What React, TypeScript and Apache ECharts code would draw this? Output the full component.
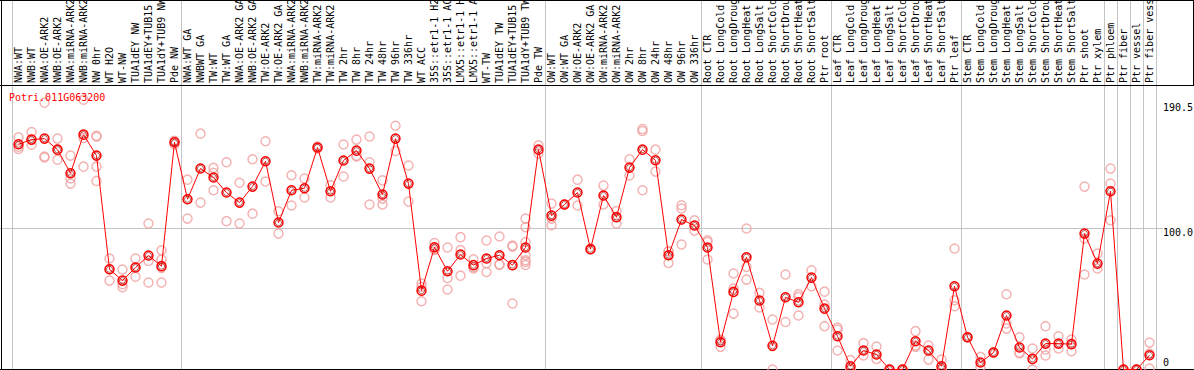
import React, { useEffect, useRef } from "react";
import * as echarts from "echarts";

const geneId = "Potri.011G063200";

const categories = [
  "NWA:WT", "NWB:WT", "NWA:OE-ARK2", "NWB:OE-ARK2", "NWA:miRNA-ARK2", "NWB:miRNA-ARK2",
  "NW 0hr", "WT H2O", "WT-NW", "TUA1dEY NW", "TUA1dEY+TUB15 NW", "TUA1dY+TUB9 NW", "Pde NW",
  "NWA:WT GA", "NWBWT GA", "TW:WT", "TW:WT GA", "NWA:OE-ARK2 GA", "NWB:OE-ARK2 GA",
  "TW:OE-ARK2", "TW:OE-ARK2 GA", "NWA:miRNA-ARK2", "NWB:miRNA-ARK2", "TW:miRNA-ARK2",
  "TW:miRNA-ARK2", "TW 2hr", "TW 8hr", "TW 24hr", "TW 48hr", "TW 96hr", "TW 336hr", "WT ACC",
  "35S::etr1-1 H2O", "35S::etr1-1 ACC", "LMX5::etr1-1 H2O", "LMX5::etr1-1 ACC", "WT-TW",
  "TUA1dEY TW", "TUA1dEY+TUB15 TW", "TUA1dY+TUB9 TW", "Pde TW",
  "OW:WT", "OW:WT GA", "OW:OE-ARK2", "OW:OE-ARK2 GA", "OW:miRNA-ARK2", "OW:miRNA-ARK2",
  "OW 2hr", "OW 8hr", "OW 24hr", "OW 48hr", "OW 96hr", "OW 336hr",
  "Root CTR", "Root LongCold", "Root LongDrought", "Root LongHeat", "Root LongSalt",
  "Root ShortCold", "Root ShortDrought", "Root ShortHeat", "Root ShortSalt", "Ptr root",
  "Leaf CTR", "Leaf LongCold", "Leaf LongDrought", "Leaf LongHeat", "Leaf LongSalt",
  "Leaf ShortCold", "Leaf ShortDrought", "Leaf ShortHeat", "Leaf ShortSalt", "Ptr leaf",
  "Stem CTR", "Stem LongCold", "Stem LongDrought", "Stem LongHeat", "Stem LongSalt",
  "Stem ShortCold", "Stem ShortDrought", "Stem ShortHeat", "Stem ShortSalt",
  "Ptr shoot", "Ptr xylem", "Ptr phloem", "Ptr fiber", "Ptr vessel", "Ptr fiber vessel",
];

// first category index of each group (vertical separators)
const groupStarts = [0, 13, 41, 53, 63, 73, 84, 85, 86, 87];

const means = [
  159.1, 162.4, 163.1, 155.3, 138.6, 165.9, 151.1, 70.8, 62.8, 72.0, 80.5, 73.0, 160.5,
  120.3, 142.0, 135.6, 125.0, 117.9, 129.2, 147.1, 103.8, 126.6, 128.0, 156.8, 125.9,
  147.6, 154.6, 141.9, 123.6, 163.1, 131.3, 55.7, 86.3, 69.4, 81.2, 73.7, 78.4, 80.7,
  73.7, 86.2, 155.3,
  108.7, 116.5, 125.0, 85.0, 122.9, 107.6, 142.6, 155.3, 147.8, 80.7, 105.9, 101.7,
  86.2, 19.3, 54.8, 79.3, 48.7, 16.7, 51.0, 47.5, 64.9, 43.0,
  23.5, 2.3, 13.4, 10.6, 0, 0, 20.0, 13.4, 2.3, 58.8,
  22.8, 4.9, 12.0, 38.1, 15.5, 7.5, 18.3, 18.3, 17.9, 96.0, 74.8,
  125.9, 0, 0, 10.1,
];

const replicates = [
  [164.1, 157.3, 155.8], [167.7, 162.4, 158.8], [188.5, 150.4, 149.7], [163.1, 155.3, 148.2],
  [151.1, 134.9, 131.3], [190.5, 163.6, 143.3], [165.1, 164.4, 143.3, 133.2], [78.4, 70.8, 62.8],
  [70.6, 58.1, 60.2], [78.4, 72.0, 65.6], [103.1, 76.7, 61.4], [84.2, 77.7, 71.8, 61.4],
  [161.5, 161.1, 159.0],
  [134.1, 106.6], [166.6, 117.9], [142.4, 138.9, 126.6], [146.4, 104.8], [131.9, 103.1],
  [148.5, 110.1], [161.2, 132.8], [111.8, 96.0], [137.2, 115.8], [134.9, 121.5],
  [157.5, 156.1], [130.2, 121.5], [158.9, 136.3], [162.4, 150.4, 151.0], [164.6, 146.4, 116.5],
  [133.6, 120.7, 116.5], [172.2, 154.4], [144.1, 118.6], [60.7, 58.3, 48.2], [89.4, 85.0, 84.5],
  [86.2, 64.7, 56.5], [93.5, 84.3, 66.3], [77.9, 72.2, 71.3], [91.1, 75.1, 68.9],
  [93.9, 74.1, 74.1], [87.5, 86.8, 46.6], [106.6, 100.5, 90.1, 80.7, 77.2, 76.0, 73.8],
  [158.4, 152.5],
  [117.2, 106.6, 101.9], [116.5, 116.5], [134.1, 115.8], [85.0, 85.0], [129.9, 116.5],
  [112.0, 103.1], [148.5, 137.0], [169.9, 168.5, 126.6], [155.3, 139.8], [83.3, 83.5, 75.3],
  [116.0, 113.7, 88.3], [105.4, 98.1],
  [91.3, 90.1, 77.7], [20.7, 21.2, 16.0], [67.8, 57.1, 39.5], [99.6, 72.5, 63.5], [54.1, 43.8],
  [35.3, 0], [67.1, 33.6], [53.2, 51.3, 38.1], [70.1, 58.8], [55.0, 45.8, 30.6],
  [29.6, 28.2, 13.4], [6.6, 0, 0], [18.6, 9.9], [16.2, 7.5], [0, 0], [0, 0], [27.1, 16.9, 16.0],
  [16.9, 7.0], [7.0, 0, 0], [85.5, 48.9, 44.7],
  [22.8, 22.8], [8.9, 1.9], [12.0, 12.0], [53.2, 32.5, 28.9], [22.8, 12.0, 11.3], [14.8, 0],
  [30.6, 14.1, 9.9], [23.5, 14.8], [21.2, 12.9], [129.2, 92.5, 67.1], [81.9, 71.3],
  [141.9, 131.3, 105.4], [0, 0], [0, 0], [19.0, 11.3, 0.7],
];

const yMarkValues = [190.5, 100, 0];
const yMarkLabels = ["190.5", "100.0", "0"];
const gridLineValue = 100;

const FONT = "DejaVu Sans Mono";

export default function App() {
  const ref = useRef<HTMLDivElement>(null);

  useEffect(() => {
    if (!ref.current) return;
    const chart = echarts.init(ref.current, null, { renderer: "svg" });

    const repData: number[][] = [];
    replicates.forEach((arr, i) => arr.forEach((v) => repData.push([i, v])));

    chart.setOption({
      animation: false,
      grid: { left: 12, top: 0, width: 1144, height: 369.5, outerBoundsMode: "none", containLabel: false },
      xAxis: {
        type: "category",
        position: "top",
        offset: -85,
        data: categories,
        boundaryGap: true,
        axisLine: { show: false },
        axisTick: { show: false },
        axisLabel: {
          interval: 0,
          rotate: 90,
          margin: 2,
          fontSize: 10,
          fontFamily: FONT,
          color: "#000",
          overflow: "truncate",
          width: 91,
          ellipsis: "",
        },
        splitLine: {
          show: true,
          interval: (idx: number) => groupStarts.includes(idx),
          lineStyle: { color: "#c4c4c4", width: 1 },
        },
      },
      yAxis: { type: "value", min: 0, max: 261, show: false },
      series: [
        {
          type: "scatter",
          data: repData,
          symbol: "circle",
          symbolSize: 9,
          itemStyle: { color: "rgba(0,0,0,0)", borderColor: "#f0a0a0", borderWidth: 1.5 },
          z: 2,
          silent: true,
        },
        {
          type: "line",
          data: means,
          symbol: "circle",
          symbolSize: 9,
          showAllSymbol: true,
          lineStyle: { color: "#ff0000", width: 1 },
          itemStyle: { color: "rgba(0,0,0,0)", borderColor: "#ff0000", borderWidth: 1.5 },
          z: 3,
          silent: true,
        },
        {
          type: "scatter",
          data: means,
          symbol: "circle",
          symbolSize: 6,
          itemStyle: { color: "rgba(0,0,0,0)", borderColor: "#900000", borderWidth: 0.8 },
          z: 4,
          silent: true,
        },
      ],
    });

    const py = (v: number) => chart.convertToPixel({ yAxisIndex: 0 }, v) as number;
    const yGrid = Math.round(py(gridLineValue)) + 0.5;
    const labelOffsets = [8, 4.5, -7];

    const black = { stroke: "#000", lineWidth: 1 };
    chart.setOption({
      graphic: [
        { type: "line", z: 0, silent: true, shape: { x1: 0, y1: yGrid, x2: 1163, y2: yGrid }, style: { stroke: "#c4c4c4", lineWidth: 1 } },
        { type: "line", z: 10, silent: true, shape: { x1: 0, y1: 0.5, x2: 1194, y2: 0.5 }, style: black },
        { type: "line", z: 10, silent: true, shape: { x1: 0, y1: 85.5, x2: 1194, y2: 85.5 }, style: black },
        { type: "line", z: 10, silent: true, shape: { x1: 1.5, y1: 0, x2: 1.5, y2: 370 }, style: black },
        { type: "line", z: 10, silent: true, shape: { x1: 1193.5, y1: 0, x2: 1193.5, y2: 85.5 }, style: black },
        { type: "line", z: 1, silent: true, shape: { x1: 0, y1: 369.5, x2: 1194, y2: 369.5 }, style: black },
        {
          type: "text", z: 10, silent: true, x: 9, y: 97,
          style: { text: geneId, fill: "#ff0000", font: `10px "${FONT}"`, textVerticalAlign: "middle", textAlign: "left" },
        },
        ...yMarkValues.map((v, i) => ({
          type: "text", z: 10, silent: true, x: 1163, y: py(v) + labelOffsets[i],
          style: { text: yMarkLabels[i], fill: "#000", font: `10px "${FONT}"`, textVerticalAlign: "middle", textAlign: "left" },
        })),
      ],
    });

    return () => chart.dispose();
  }, []);

  return (
    <div
      ref={ref}
      style={{ position: "fixed", left: 0, top: 0, width: 1194, height: 370, background: "#fff" }}
    />
  );
}
